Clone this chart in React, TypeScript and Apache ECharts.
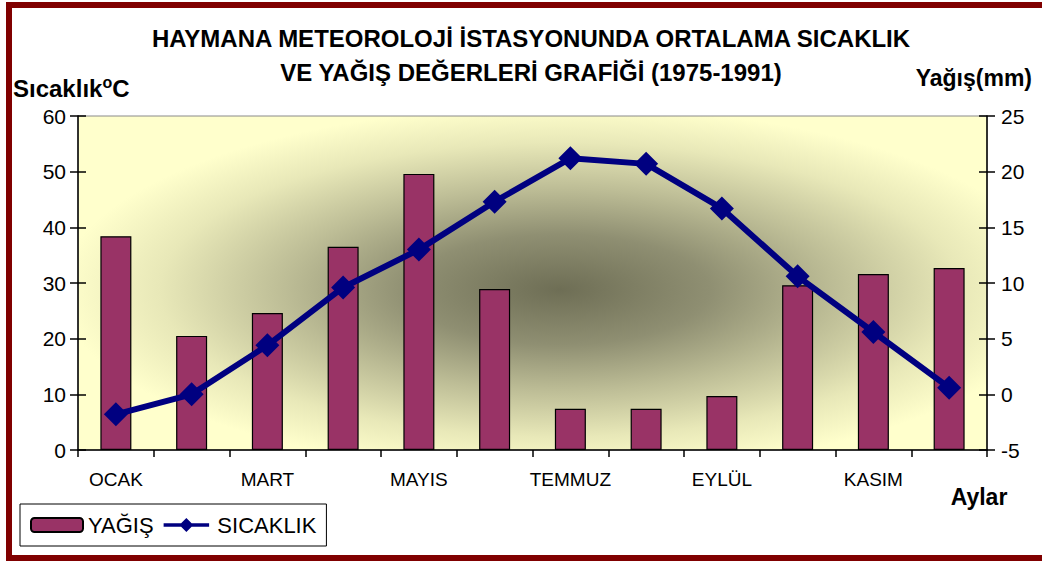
import React, { useEffect, useRef } from "react";
import * as echarts from "echarts";

const months = ["OCAK", "ŞUBAT", "MART", "NİSAN", "MAYIS", "HAZİRAN", "TEMMUZ", "AĞUSTOS", "EYLÜL", "EKİM", "KASIM", "ARALIK"];
const yagis = [38.4, 20.5, 24.6, 36.5, 49.6, 28.9, 7.4, 7.4, 9.7, 29.6, 31.6, 32.7];
const sicaklik = [-1.8, 0.0, 4.4, 9.6, 13.0, 17.3, 21.2, 20.7, 16.7, 10.6, 5.6, 0.6];
const titleLine1 = "HAYMANA METEOROLOJİ İSTASYONUNDA ORTALAMA SICAKLIK";
const titleLine2 = "VE YAĞIŞ DEĞERLERİ GRAFİĞİ (1975-1991)";

const FONT = "'Liberation Sans', Arial, sans-serif";

export default function App() {
  const ref = useRef<HTMLDivElement>(null);
  useEffect(() => {
    if (!ref.current) return;
    const chart = echarts.init(ref.current, null, { renderer: "svg" });
    const grid = { left: 78, right: 55, top: 116, bottom: 111 };
    const axisLine = { show: true, lineStyle: { color: "#000", width: 1.5 } };
    chart.setOption({
      animation: false,
      backgroundColor: "#fff",
      textStyle: { fontFamily: FONT },
      grid: {
        ...grid,
        show: true,
        borderColor: "#8a8a8a",
        borderWidth: 1,
        backgroundColor: {
          type: "radial",
          x: 0.53,
          y: 0.52,
          r: 0.55,
          colorStops: [
            { offset: 0, color: "#6e6e55" },
            { offset: 0.3, color: "#8f8f72" },
            { offset: 0.55, color: "#bdbd96" },
            { offset: 0.8, color: "#e8e8b8" },
            { offset: 1, color: "#ffffcc" },
          ],
        },
      },
      legend: {
        left: 20,
        top: 504,
        padding: [10, 10, 10, 10],
        itemGap: 10,
        itemWidth: 52,
        itemHeight: 14,
        borderColor: "#000",
        borderWidth: 1,
        backgroundColor: "#fff",
        textStyle: { fontSize: 22, color: "#000", fontFamily: FONT },
        data: [
          { name: "YAĞIŞ" },
          {
            name: "SICAKLIK",
            icon: "path://M0,5 L20,5 L26,-1 L32,5 L52,5 L52,9 L32,9 L26,15 L20,9 L0,9 Z",
            itemStyle: { color: "#000080", borderWidth: 0 },
          },
        ],
      },
      xAxis: {
        type: "category",
        data: months,
        boundaryGap: true,
        axisLine,
        axisTick: { show: true, interval: 0, length: 7, lineStyle: { color: "#000", width: 1.5 } },
        axisLabel: { interval: 1, fontSize: 19, color: "#000", margin: 20, fontFamily: FONT },
        splitLine: { show: false },
      },
      yAxis: [
        {
          type: "value",
          position: "left",
          min: 0,
          max: 60,
          interval: 10,
          axisLine,
          axisTick: { show: true, length: 8, lineStyle: { color: "#000", width: 1.5 } },
          axisLabel: { fontSize: 21, color: "#000", margin: 12, fontFamily: FONT },
          splitLine: { show: false },
        },
        {
          type: "value",
          position: "right",
          min: -5,
          max: 25,
          interval: 5,
          axisLine,
          axisTick: { show: true, length: 8, lineStyle: { color: "#000", width: 1.5 } },
          axisLabel: { fontSize: 21, color: "#000", margin: 14, fontFamily: FONT },
          splitLine: { show: false },
        },
        {
          type: "value",
          position: "left",
          min: 0,
          max: 60,
          interval: 10,
          axisLine: { show: false },
          axisTick: { show: true, inside: true, length: 8, lineStyle: { color: "#000", width: 1.5 } },
          axisLabel: { show: false },
          splitLine: { show: false },
        },
        {
          type: "value",
          position: "right",
          min: -5,
          max: 25,
          interval: 5,
          axisLine: { show: false },
          axisTick: { show: true, inside: true, length: 8, lineStyle: { color: "#000", width: 1.5 } },
          axisLabel: { show: false },
          splitLine: { show: false },
        },
      ],
      series: [
        {
          name: "YAĞIŞ",
          type: "bar",
          yAxisIndex: 0,
          data: yagis,
          barWidth: 31,
          itemStyle: { color: "#993366", borderColor: "#000", borderWidth: 1.2 },
        },
        {
          name: "SICAKLIK",
          type: "line",
          yAxisIndex: 1,
          data: sicaklik,
          symbol: "diamond",
          symbolSize: 24,
          color: "#000080",
          lineStyle: { color: "#000080", width: 6 },
          itemStyle: { color: "#000080" },
          z: 5,
        },
      ],
      graphic: [
        {
          type: "text",
          x: 531,
          y: 38,
          style: {
            text: titleLine1,
            fontSize: 24,
            fontWeight: "bold",
            fontFamily: FONT,
            fill: "#000",
            align: "center",
            verticalAlign: "middle",
          },
        },
        {
          type: "text",
          x: 531,
          y: 72,
          style: {
            text: titleLine2,
            fontSize: 24,
            fontWeight: "bold",
            fontFamily: FONT,
            fill: "#000",
            align: "center",
            verticalAlign: "middle",
          },
        },
        {
          type: "text",
          x: 13,
          y: 88,
          style: {
            text: "Sıcaklık{s|o}C",
            fontSize: 24,
            fontWeight: "bold",
            fontFamily: FONT,
            fill: "#000",
            align: "left",
            verticalAlign: "middle",
            rich: {
              s: { fontSize: 16, fontWeight: "bold", fontFamily: FONT, fill: "#000", padding: [0, 0, 12, 0] },
            },
          },
        },
        {
          type: "text",
          x: 1032,
          y: 78,
          style: {
            text: "Yağış(mm)",
            fontSize: 23,
            fontWeight: "bold",
            fontFamily: FONT,
            fill: "#000",
            align: "right",
            verticalAlign: "middle",
          },
        },
        {
          type: "text",
          x: 979,
          y: 497,
          style: {
            text: "Aylar",
            fontSize: 23,
            fontWeight: "bold",
            fontFamily: FONT,
            fill: "#000",
            align: "center",
            verticalAlign: "middle",
          },
        },
        {
          type: "rect",
          shape: { x: 9, y: 5, width: 1060, height: 553 },
          style: { fill: "none", stroke: "#800000", lineWidth: 6 },
          silent: true,
        },
      ],
    });
    return () => chart.dispose();
  }, []);
  return (
    <div
      ref={ref}
      style={{ position: "fixed", left: 0, top: 0, width: 1042, height: 561, background: "#fff" }}
    />
  );
}
